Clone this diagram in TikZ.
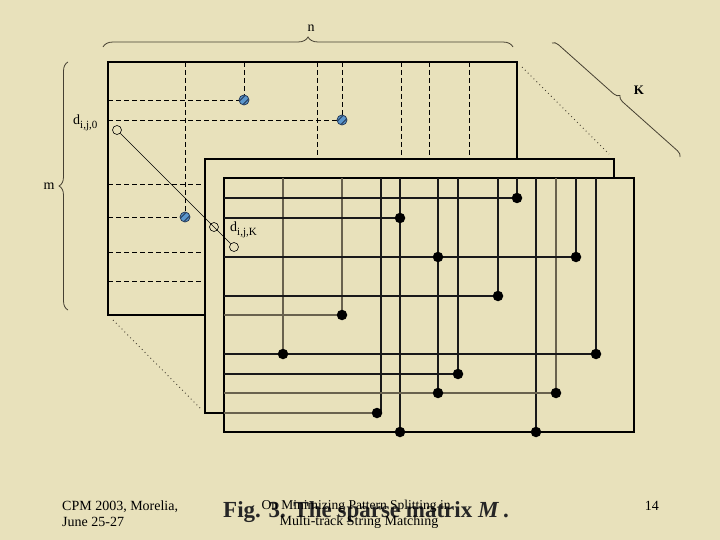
\documentclass[tikz,border=0pt]{standalone}
\usepackage{fontspec}
\setmainfont{Liberation Serif}
\usetikzlibrary{decorations.pathreplacing}
\definecolor{bg}{RGB}{232,225,187}
\definecolor{gline}{RGB}{105,98,78}
\definecolor{brc}{RGB}{70,64,50}
\definecolor{bfill}{RGB}{90,150,205}
\definecolor{bedge}{RGB}{35,55,85}
\tikzset{
  frame/.style={line width=1.7pt, draw=black, fill=bg},
  gridk/.style={line width=1.2pt, draw=black!90},
  gridg/.style={line width=1.2pt, draw=gline},
  dashline/.style={line width=0.9pt, dash pattern=on 5pt off 3pt},
  dotline/.style={line width=0.9pt, dash pattern=on 0.9pt off 3.2pt, draw=brc},
  bdot/.style={circle, inner sep=0pt, minimum size=10.5pt, fill=black},
  bluedot/.style={circle, inner sep=0pt, minimum size=10pt, fill=bfill, draw=bedge, line width=0.8pt},
  odot/.style={circle, inner sep=0pt, minimum size=9pt, draw=black, line width=0.6pt},
  bracestyle/.style={decorate, draw=brc, line width=0.8pt},
  lbl/.style={inner sep=0pt, font=\fontsize{14}{14}\selectfont},
  foot/.style={inner sep=0pt, font=\fontsize{14}{14}\selectfont}
}
\begin{document}
\begin{tikzpicture}[x=1pt,y=-1pt]
\fill[bg] (0,0) rectangle (720,540);
\useasboundingbox (0,0) rectangle (720,540);

% braces
\draw[bracestyle, decoration={brace, amplitude=10pt}] (103,47) -- (513,47);
\draw[bracestyle, decoration={brace, amplitude=9pt}] (68,310) -- (68,62);
\draw[bracestyle, decoration={brace, amplitude=6pt}] (552,43) -- (680,157);
\node[lbl, anchor=base] (nlab) at (311,32) {n};
\node[lbl, anchor=base] (mlab) at (49,190) {m};
\node[lbl, anchor=base, font=\bfseries\fontsize{13}{13}\selectfont] (klab) at (639,95) {K};

% dotted depth lines
\draw[dotline] (522,67) -- (609,154);
\draw[dotline] (113,320) -- (200,408);

% back matrix
\draw[frame] (108,62) rectangle (517,315);
\draw[dashline] (108,100) -- (244,100);
\draw[dashline] (108,120) -- (342,120);
\draw[dashline] (108,184) -- (205,184);
\draw[dashline] (108,217) -- (185,217);
\draw[dashline] (108,252) -- (205,252);
\draw[dashline] (108,281) -- (205,281);
\draw[dashline] (185,62) -- (185,217);
\draw[dashline] (244,62) -- (244,100);
\draw[dashline] (342,62) -- (342,120);
\draw[dashline] (317,62) -- (317,159);
\draw[dashline] (401,62) -- (401,159);
\draw[dashline] (429,62) -- (429,159);
\draw[dashline] (469,62) -- (469,159);
\foreach \n/\x/\y in {b1/244/100, b2/342/120, b3/185/217}{
  \node[bluedot] (\n) at (\x,\y) {};
  \begin{scope}
    \clip (\x,\y) circle (4.6pt);
    \draw[bedge, line width=0.9pt] (\x-5,\y+1.5) -- (\x+1.5,\y-5);
    \draw[bedge, line width=0.9pt] (\x-1.5,\y+5) -- (\x+5,\y-1.5);
  \end{scope}
}

% middle matrix
\draw[frame] (205,159) rectangle (614,413);

% front matrix
\draw[frame] (224,178) rectangle (634,432);
% columns: x / end y / style
\foreach \x/\e/\s in {283/354/gridg, 342/315/gridg, 381/413/gridk, 400/432/gridk,
  438/393/gridk, 458/374/gridk, 498/296/gridk, 517/198/gridk, 536/432/gridk,
  556/393/gridg, 576/257/gridk, 596/354/gridk}{
  \draw[\s] (\x,178) -- (\x,\e);
}
% rows: y / end x / style
\foreach \y/\e/\s in {198/517/gridk, 218/400/gridk, 257/576/gridk, 296/498/gridk,
  315/342/gridg, 354/596/gridk, 374/458/gridk, 393/556/gridg}{
  \draw[\s] (224,\y) -- (\e,\y);
}
\draw[gridg] (224,413) -- (381,413);
\draw[line width=1.7pt] (224,432) -- (634,432);
% nonzero entries
\foreach \n/\x/\y in {p1/517/198, p2/400/218, p3/438/257, p4/576/257, p5/498/296,
  p6/342/315, p7/283/354, p8/596/354, p9/458/374, p10/438/393, p11/556/393,
  p12/377/413, p13/400/432, p14/536/432}{
  \node[bdot] (\n) at (\x,\y) {};
}

% depth line d_{i,j,0} .. d_{i,j,K}
\node[odot] (c0) at (117,130) {};
\node[odot] (c1) at (214,227) {};
\node[odot] (cK) at (234,247) {};
\draw[line width=0.6pt] (c0) -- (cK);
\node[lbl, anchor=base west] (d0) at (73,125) {d\raisebox{-3.5pt}{\fontsize{11}{11}\selectfont i,j,0}};
\node[lbl, anchor=base west] (dK) at (230,232) {d\raisebox{-3.5pt}{\fontsize{11}{11}\selectfont i,j,K}};

% footer
\node[inner sep=0pt, anchor=base west, text=black!85, font=\bfseries\fontsize{23}{24}\selectfont] (cap) at (223,517) {Fig. 3. The sparse matrix \textit{M}\,.};
\node[foot, anchor=base west] (f1) at (62,510) {CPM 2003, Morelia,};
\node[foot, anchor=base west] (f2) at (62,526) {June 25-27};
\node[foot, anchor=base, font=\fontsize{13.5}{14}\selectfont] (f3) at (356,509) {On Minimizing Pattern Splitting in};
\node[foot, anchor=base] (f4) at (359,525) {Multi-track String Matching};
\node[foot, anchor=base east] (f5) at (659,510) {14};
\end{tikzpicture}
\end{document}
